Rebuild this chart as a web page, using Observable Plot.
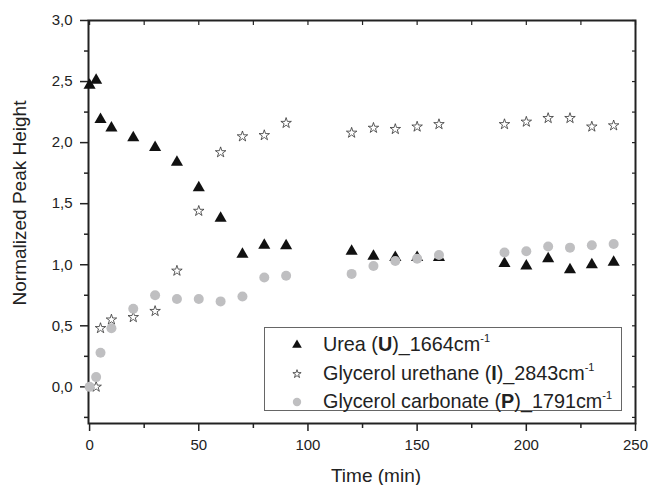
<!DOCTYPE html>
<html><head><meta charset="utf-8">
<script src="https://cdn.jsdelivr.net/npm/d3@7"></script>
<script src="https://cdn.jsdelivr.net/npm/@observablehq/plot@0.6"></script>
<style>
body{margin:0;background:#fff;font-family:"Liberation Sans",Arial,sans-serif;}
#wrap{position:relative;width:650px;height:485px;}
#legend{position:absolute;left:264px;top:327px;width:358px;height:84px;border:1.5px solid #666;box-sizing:border-box;background:#fff;}
.row{position:absolute;left:0;height:28px;width:100%;font-size:19.8px;color:#222;white-space:nowrap;}
.row svg{position:absolute;left:21px;top:4px;}
.row span{position:absolute;left:58px;top:3px;line-height:22px;}
.row sup{font-size:11px;vertical-align:baseline;position:relative;top:-9px;}
</style></head>
<body><div id="wrap"></div>
<script>
// ---- data ----
const ureaTime = [0,3,5,10,20,30,40,50,60,70,80,90,120,130,140,150,160,190,200,210,220,230,240];
const ureaVal  = [2.47,2.51,2.19,2.12,2.04,1.96,1.84,1.63,1.38,1.085,1.16,1.155,1.11,1.07,1.06,1.06,1.06,1.01,0.99,1.05,0.96,1.00,1.02];
const urethaneTime = [3,5,10,20,30,40,50,60,70,80,90,120,130,140,150,160,190,200,210,220,230,240];
const urethaneVal  = [0.00,0.48,0.55,0.57,0.62,0.95,1.44,1.92,2.05,2.06,2.16,2.08,2.12,2.11,2.13,2.15,2.15,2.17,2.20,2.20,2.13,2.14];
const carbTime = [0,3,5,10,20,30,40,50,60,70,80,90,120,130,140,150,160,190,200,210,220,230,240];
const carbVal  = [0.00,0.08,0.28,0.48,0.64,0.75,0.72,0.72,0.70,0.74,0.895,0.91,0.925,0.99,1.03,1.05,1.08,1.10,1.11,1.15,1.14,1.16,1.17];
const yMajor = [0,0.5,1,1.5,2,2.5,3];
const yMinor = [-0.25,0.25,0.75,1.25,1.75,2.25,2.75];
const xMajor = [0,50,100,150,200,250];
const xMinor = [25,75,125,175,225];
const xTitle = "Time (min)";
const yTitle = "Normalized Peak Height";
const seriesNames = ["Urea", "Glycerol urethane", "Glycerol carbonate"];

const urea = ureaTime.map((t,i)=>({t, v: ureaVal[i]}));
const urethane = urethaneTime.map((t,i)=>({t, v: urethaneVal[i]}));
const carb = carbTime.map((t,i)=>({t, v: carbVal[i]}));
const comma = d => d3.format(".1f")(d).replace(".", ",");
const ink = "#222";

const chart = Plot.plot({
  width: 650, height: 485,
  marginLeft: 88, marginRight: 15, marginTop: 20, marginBottom: 62,
  style: {fontFamily: "'Liberation Sans', Arial, sans-serif", color: ink, background: "#fff"},
  x: {domain: [-0.5, 250]},
  y: {domain: [-0.3, 3.0]},
  marks: [
    Plot.axisY({ticks: yMajor, tickSize: 8, tickPadding: 8, tickFormat: comma, fontSize: 15, label: null, stroke: ink, strokeWidth: 1.5}),
    Plot.axisY({ticks: yMinor, tickSize: 4, tickFormat: () => "", label: null, stroke: ink, strokeWidth: 1.5}),
    Plot.axisY({anchor: "right", ticks: yMajor.concat(yMinor), tickSize: -4, tickFormat: () => "", label: null, stroke: ink, strokeWidth: 1.2}),
    Plot.axisX({ticks: xMajor, tickSize: 8, tickPadding: 8, tickFormat: d => String(d), fontSize: 15, label: null, stroke: ink, strokeWidth: 1.5}),
    Plot.axisX({ticks: xMinor, tickSize: 5, tickFormat: () => "", label: null, stroke: ink, strokeWidth: 1.5}),
    Plot.axisX({anchor: "top", ticks: xMajor.concat(xMinor), tickSize: -4, tickFormat: () => "", label: null, stroke: ink, strokeWidth: 1.2}),
    Plot.frame({stroke: ink, strokeWidth: 2}),
    Plot.text([yTitle], {text: d => d, frameAnchor: "left", textAnchor: "middle", lineAnchor: "middle", rotate: -90, dx: -69, dy: -19, fontSize: 19, fill: ink}),
    Plot.text([xTitle], {text: d => d, frameAnchor: "bottom", textAnchor: "middle", lineAnchor: "middle", dx: 14, dy: 52, fontSize: 19, fill: ink}),
    Plot.dot(urea, {x: "t", y: "v", symbol: "triangle", r: 4.5, fill: "#111", stroke: "none"}),
    Plot.dot(urethane, {x: "t", y: "v", symbol: "star", r: 3.3, fill: "#fff", stroke: "#333", strokeWidth: 0.8}),
    Plot.dot(carb, {x: "t", y: "v", symbol: "circle", r: 5, fill: "#bfbfc1", stroke: "none"})
  ]
});
const wrap = document.getElementById("wrap");
wrap.appendChild(chart);

// legend
const legend = document.createElement("div");
legend.id = "legend";
const sym = (type, r, fill, stroke, sw) => {
  const p = d3.symbol(type, Math.PI * r * r)();
  return `<svg width="22" height="22" viewBox="-11 -11 22 22"><path d="${p}" fill="${fill}" stroke="${stroke}" stroke-width="${sw}"/></svg>`;
};
const rows = [
  {s: sym(d3.symbolTriangle, 3.6, "#111", "none", 0), html: `${seriesNames[0]} (<b>U</b>)_1664cm<sup>-1</sup>`},
  {s: sym(d3.symbolStar, 2.6, "#fff", "#333", 0.8), html: `${seriesNames[1]} (<b>I</b>)_2843cm<sup>-1</sup>`},
  {s: sym(d3.symbolCircle, 4.2, "#bfbfc1", "none", 0), html: `${seriesNames[2]} (<b>P</b>)_1791cm<sup>-1</sup>`}
];
rows.forEach((r, i) => {
  const d = document.createElement("div");
  d.className = "row";
  d.style.top = (2 + i * 28.7) + "px";
  d.innerHTML = r.s + `<span>${r.html}</span>`;
  legend.appendChild(d);
});
wrap.appendChild(legend);
</script>
</body></html>
